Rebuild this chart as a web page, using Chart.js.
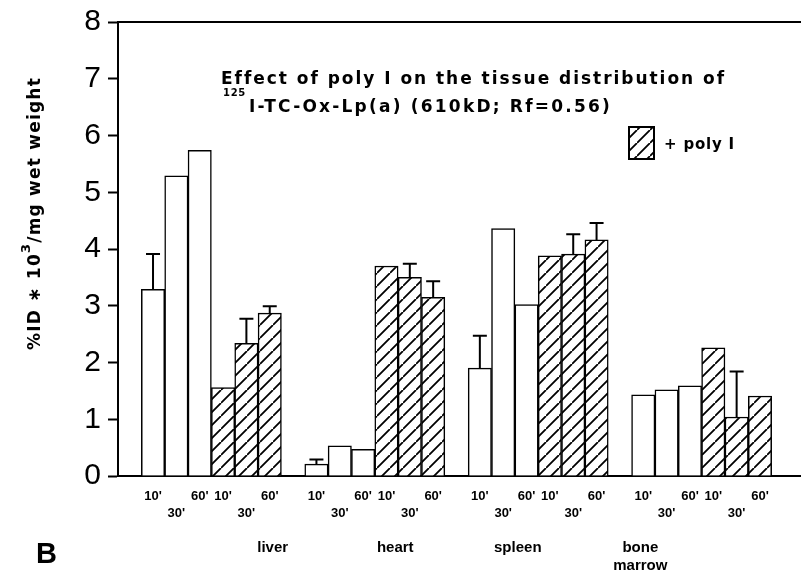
<!DOCTYPE html>
<html>
<head>
<meta charset="utf-8">
<title>Effect of poly I on tissue distribution</title>
<script src="https://cdn.jsdelivr.net/npm/chart.js@4/dist/chart.umd.min.js"></script>
<style>
  html, body { margin: 0; padding: 0; background: #fff; }
  #wrap { width: 801px; height: 571px; }
</style>
</head>
<body>
<div id="wrap"><canvas id="tissueChart" width="801" height="571"></canvas></div>
<script>
// Values (%ID * 10^3 / mg wet weight)
const tissues = ["liver", "heart", "spleen", ["bone", "marrow"]];
const timePoints = ["10'", "30'", "60'"];

// control (open bars), 3 time points per tissue
const controlValues = [3.29, 5.29, 5.74, 0.21, 0.53, 0.47, 1.90, 4.36, 3.02, 1.43, 1.52, 1.59];
const controlErrors = [0.62, null, null, 0.08, null, null, 0.57, null, null, null, null, null];

// + poly I (hatched bars)
const polyIValues = [1.56, 2.34, 2.87, 3.70, 3.50, 3.15, 3.88, 3.91, 4.16, 2.26, 1.04, 1.41];
const polyIErrors = [null, 0.43, 0.12, null, 0.24, 0.28, null, 0.35, 0.30, null, 0.80, null];

const yTicks = [0, 1, 2, 3, 4, 5, 6, 7, 8];

// Build the slot layout: blank, 6 bars, blank, 6 bars, ...
const slotLabels = [];
const controlData = [];
const polyIData = [];
const controlErr = [];
const polyIErr = [];
const groupCenters = [];

function pushSlot(label, c, ce, p, pe) {
  slotLabels.push(label);
  controlData.push(c);
  controlErr.push(ce);
  polyIData.push(p);
  polyIErr.push(pe);
}

pushSlot(["", ""], null, null, null, null);
tissues.forEach((tissue, g) => {
  const start = slotLabels.length;
  timePoints.forEach((tp, k) => {
    const label = k === 1 ? ["", tp] : [tp, ""];
    pushSlot(label, controlValues[g * 3 + k], controlErrors[g * 3 + k], null, null);
  });
  timePoints.forEach((tp, k) => {
    const label = k === 1 ? ["", tp] : [tp, ""];
    pushSlot(label, null, null, polyIValues[g * 3 + k], polyIErrors[g * 3 + k]);
  });
  groupCenters.push(start + 2.5);
  pushSlot(["", ""], null, null, null, null);
});

const errorData = [controlErr, polyIErr];

const canvas = document.getElementById("tissueChart");
const ctx = canvas.getContext("2d");

const TEXT_FONT = "'DejaVu Sans', Verdana, sans-serif";

// diagonal hatch fill
function makeHatch() {
  const size = 13;
  const tile = document.createElement("canvas");
  tile.width = size;
  tile.height = size;
  const p = tile.getContext("2d");
  p.fillStyle = "#fff";
  p.fillRect(0, 0, size, size);
  p.strokeStyle = "#000";
  p.lineWidth = 1.8;
  p.beginPath();
  p.moveTo(0, size);
  p.lineTo(size, 0);
  p.moveTo(-size, size);
  p.lineTo(0, 0);
  p.moveTo(size, 2 * size);
  p.lineTo(2 * size, size);
  p.stroke();
  return ctx.createPattern(tile, "repeat");
}
const hatch = makeHatch();

// draw several text runs, spreading letter spacing to fill a target width
function drawRuns(c, runs, x, y, targetWidth) {
  c.letterSpacing = "0px";
  let natural = 0;
  let chars = 0;
  runs.forEach((r) => {
    c.font = r.font;
    r.w = c.measureText(r.text).width;
    natural += r.w;
    chars += r.text.length;
  });
  const extra = targetWidth ? Math.max(0, (targetWidth - natural) / chars) : 0;
  c.letterSpacing = extra + "px";
  let cx = x;
  runs.forEach((r) => {
    c.font = r.font;
    c.fillText(r.text, cx + (r.dx || 0), y + (r.dy || 0));
    cx += r.w + extra * r.text.length + (r.dx || 0);
  });
  c.letterSpacing = "0px";
}

// error bars (upward only, with cap)
const errorBars = {
  id: "errorBars",
  afterDatasetsDraw(chart) {
    const c = chart.ctx;
    const yScale = chart.scales.y;
    c.save();
    c.strokeStyle = "#000";
    c.lineWidth = 2;
    chart.data.datasets.forEach((ds, di) => {
      const meta = chart.getDatasetMeta(di);
      meta.data.forEach((bar, i) => {
        const err = errorData[di][i];
        if (err == null || ds.data[i] == null) return;
        const top = yScale.getPixelForValue(ds.data[i] + err);
        c.beginPath();
        c.moveTo(bar.x, bar.y);
        c.lineTo(bar.x, top);
        c.moveTo(bar.x - 7, top);
        c.lineTo(bar.x + 7, top);
        c.stroke();
      });
    });
    c.restore();
  },
};

// frame line, title, legend, axis title, panel letter
const decorations = {
  id: "decorations",
  afterDraw(chart) {
    const c = chart.ctx;
    const area = chart.chartArea;
    c.save();
    c.strokeStyle = "#000";
    c.lineWidth = 2;
    c.beginPath();
    c.moveTo(area.left, area.top);
    c.lineTo(chart.width, area.top);
    c.moveTo(area.right, area.bottom);
    c.lineTo(chart.width, area.bottom);
    c.stroke();

    c.fillStyle = "#000";
    c.textBaseline = "alphabetic";
    c.textAlign = "left";

    // title
    drawRuns(c, [{ text: "Effect of poly I on the tissue distribution of", font: "bold 17px " + TEXT_FONT }], 221, 84, 504);
    drawRuns(c, [{ text: "125", font: "bold 10px " + TEXT_FONT, dy: -16 }], 223, 112, 23);
    drawRuns(c, [{ text: "I-TC-Ox-Lp(a) (610kD; Rf=0.56)", font: "bold 17px " + TEXT_FONT }], 249, 112, 363);

    // legend
    c.fillStyle = hatch;
    c.fillRect(629, 127, 25, 32);
    c.strokeRect(629, 127, 25, 32);
    c.fillStyle = "#000";
    drawRuns(c, [{ text: "+ poly I", font: "bold 15px " + TEXT_FONT }], 664, 149, 71);

    // y axis title, rotated
    c.save();
    c.translate(40, 350);
    c.rotate(-Math.PI / 2);
    drawRuns(c, [
      { text: "%ID \u2217 10", font: "bold 17px " + TEXT_FONT },
      { text: "3", font: "bold 13px " + TEXT_FONT, dy: -10 },
      { text: "/mg wet weight", font: "bold 17px " + TEXT_FONT },
    ], 0, 0, 273);
    c.restore();

    // panel letter
    c.font = "bold 29px 'Liberation Sans', Arial, sans-serif";
    c.fillText("B", 36, 563);
    c.restore();
  },
};

new Chart(ctx, {
  type: "bar",
  data: {
    labels: slotLabels,
    datasets: [
      {
        label: "control",
        data: controlData,
        backgroundColor: "#fff",
        borderColor: "#000",
        borderWidth: 1.5,
        grouped: false,
        barPercentage: 1,
        categoryPercentage: 1,
      },
      {
        label: "+ poly I",
        data: polyIData,
        backgroundColor: hatch,
        borderColor: "#000",
        borderWidth: 1.5,
        grouped: false,
        barPercentage: 1,
        categoryPercentage: 1,
      },
    ],
  },
  options: {
    responsive: false,
    animation: false,
    layout: {
      padding: { top: 20, right: 6, left: 0, bottom: 0 },
    },
    plugins: {
      legend: { display: false },
      tooltip: { enabled: false },
    },
    scales: {
      x: {
        type: "category",
        offset: true,
        grid: { display: false },
        border: { display: true, color: "#000", width: 2 },
        ticks: {
          autoSkip: false,
          maxRotation: 0,
          minRotation: 0,
          padding: 3,
          color: "#000",
          font: { family: "'Liberation Sans', Arial, sans-serif", size: 13, weight: "bold", lineHeight: 1.38 },
        },
        afterFit: (scale) => {
          scale.height = 50;
        },
      },
      groups: {
        type: "linear",
        position: "bottom",
        weight: 1,
        min: -0.5,
        max: slotLabels.length - 0.5,
        grid: { display: false },
        border: { display: false },
        afterBuildTicks: (scale) => {
          scale.ticks = groupCenters.map((v) => ({ value: v }));
        },
        ticks: {
          autoSkip: false,
          maxRotation: 0,
          minRotation: 0,
          padding: 5,
          color: "#000",
          font: { family: "'Liberation Sans', Arial, sans-serif", size: 15, weight: "bold", lineHeight: 1.2 },
          callback: (value) => tissues[groupCenters.indexOf(value)],
        },
        afterFit: (scale) => {
          scale.height = 45;
        },
      },
      y: {
        min: 0,
        max: 8,
        afterBuildTicks: (scale) => {
          scale.ticks = yTicks.map((v) => ({ value: v }));
        },
        grid: {
          drawOnChartArea: false,
          drawTicks: true,
          tickLength: 10,
          tickWidth: 2,
          tickColor: "#000",
        },
        border: { display: true, color: "#000", width: 2 },
        ticks: {
          padding: 7,
          color: "#000",
          font: { family: "'Liberation Sans', Arial, sans-serif", size: 30, lineHeight: 1 },
        },
        afterFit: (scale) => {
          scale.width = 118;
        },
      },
    },
  },
  plugins: [errorBars, decorations],
});
</script>
</body>
</html>
